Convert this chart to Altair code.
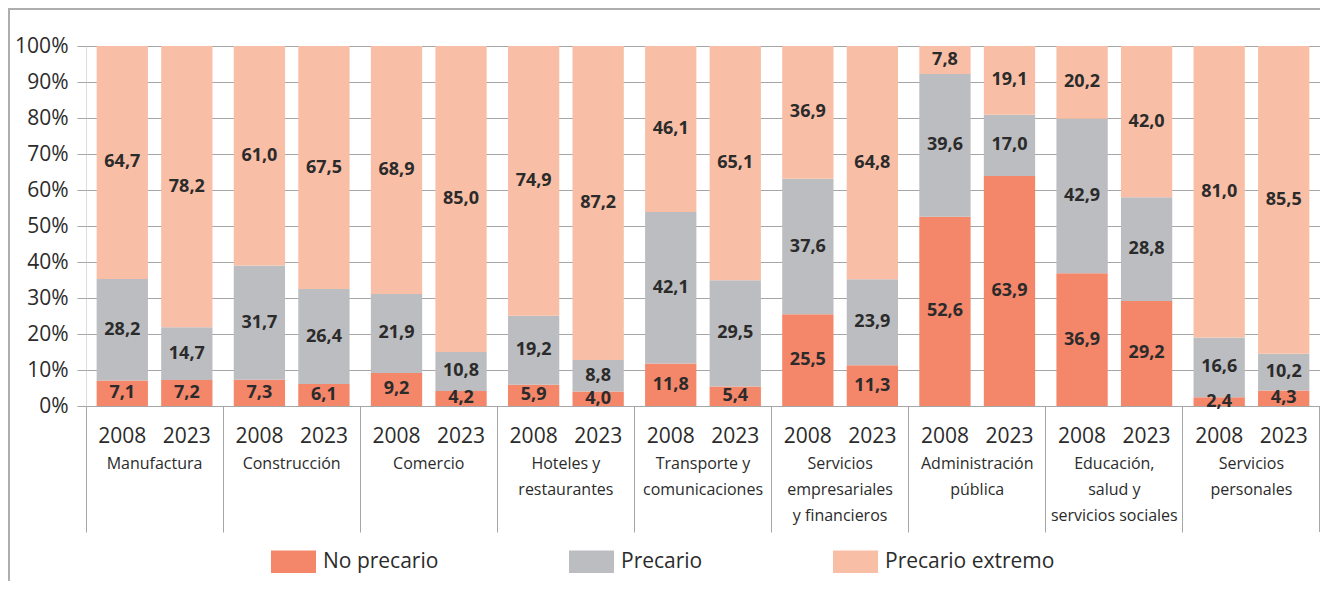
import altair as alt
import pandas as pd

sectors = ["Manufactura", "Construcción", "Comercio", "Hoteles y|restaurantes",
           "Transporte y|comunicaciones", "Servicios|empresariales|y financieros",
           "Administración|pública", "Educación,|salud y|servicios sociales",
           "Servicios|personales"]
years = ["2008", "2023"]
categories = ["No precario", "Precario", "Precario extremo"]

# values per sector: [2008, 2023]
no_precario = [[7.1, 7.2], [7.3, 6.1], [9.2, 4.2], [5.9, 4.0], [11.8, 5.4],
               [25.5, 11.3], [52.6, 63.9], [36.9, 29.2], [2.4, 4.3]]
precario = [[28.2, 14.7], [31.7, 26.4], [21.9, 10.8], [19.2, 8.8], [42.1, 29.5],
            [37.6, 23.9], [39.6, 17.0], [42.9, 28.8], [16.6, 10.2]]
precario_extremo = [[64.7, 78.2], [61.0, 67.5], [68.9, 85.0], [74.9, 87.2], [46.1, 65.1],
                    [36.9, 64.8], [7.8, 19.1], [20.2, 42.0], [81.0, 85.5]]
y_ticks = [0.0, 0.1, 0.2, 0.3, 0.4, 0.5, 0.6, 0.7, 0.8, 0.9, 1.0]

colors = ["#F4866A", "#BCBDC0", "#F9BFA6"]

rows = []
for si, s in enumerate(sectors):
    for yi, y in enumerate(years):
        for ci, (c, arr) in enumerate(zip(categories, [no_precario, precario, precario_extremo])):
            v = arr[si][yi]
            rows.append({"sector": s, "year": y, "cat": c, "order": ci,
                         "value": v, "label": f"{v:.1f}".replace(".", ",")})
df = pd.DataFrame(rows)
sec_df = pd.DataFrame({"sector": sectors})
yr_df = pd.DataFrame([{"sector": s, "year": y} for s in sectors for y in years])

W, H = 1234, 360
GRID = "#A6A6A6"
TXT = "#2b2b2b"
FONT = "Open Sans"

xs = alt.X("sector:N", sort=sectors, title=None,
           scale=alt.Scale(paddingInner=0, paddingOuter=0),
           axis=alt.Axis(labels=False, ticks=True, tickSize=126, tickColor=GRID,
                         bandPosition=0, domain=False, grid=False))
xo = alt.XOffset("year:N", sort=years,
                 scale=alt.Scale(paddingInner=0.205, paddingOuter=0.165))
y_axis = alt.Axis(format=".0%", values=y_ticks, labelOverlap=False, tickCount=11,
                  grid=True, gridColor=GRID, tickColor=GRID, tickSize=9,
                  domain=False, labelPadding=9, labelFont=FONT,
                  labelFontSize=21, labelColor=TXT)

base = alt.Chart(df).transform_stack(
    stack="value", groupby=["sector", "year"], as_=["y0", "y1"],
    sort=[alt.SortField("order")], offset="normalize"
).transform_calculate(mid="(datum.y0 + datum.y1) / 2")

bars = base.mark_bar().encode(
    x=xs, xOffset=xo,
    y=alt.Y("y0:Q", title=None, scale=alt.Scale(domain=[0, 1]), axis=y_axis),
    y2="y1:Q",
    color=alt.Color("cat:N", sort=categories,
                    scale=alt.Scale(domain=categories, range=colors),
                    legend=alt.Legend(title=None, orient="none", direction="horizontal",
                                      legendX=185, legendY=493,
                                      symbolType="M-1,-0.5H1V0.5H-1Z", symbolSize=2025,
                                      symbolStrokeWidth=0, symbolOpacity=1,
                                      labelFont=FONT, labelFontSize=21,
                                      labelColor=TXT, labelOffset=7,
                                      columnPadding=130, labelLimit=300)),
)

vals = base.mark_text(font=FONT, fontSize=18, fontWeight="bold", color=TXT,
                      baseline="middle").encode(
    x=xs, xOffset=xo,
    y=alt.Y("mid:Q", title=None, scale=alt.Scale(domain=[0, 1]), axis=y_axis),
    text="label:N")

yr_text = alt.Chart(yr_df).mark_text(font=FONT, fontSize=21, color=TXT,
                                      baseline="alphabetic").encode(
    x=xs, xOffset=xo, y=alt.value(397), text="year:N")

sec_text = alt.Chart(sec_df).mark_text(font=FONT, fontSize=16, color=TXT,
                                        baseline="alphabetic", lineBreak="|",
                                        lineHeight=26).encode(
    x=xs, y=alt.value(423), text="sector:N")

right_sep = alt.Chart(sec_df).mark_rule(color=GRID, strokeWidth=1).encode(
    x=alt.value(W), y=alt.value(H), y2=alt.value(H + 126))

frame_top = alt.Chart(sec_df).mark_rule(color="#AEAEAE", strokeWidth=2).encode(
    x=alt.value(-80), x2=alt.value(W + 10), y=alt.value(-37))
frame_left = alt.Chart(sec_df).mark_rule(color="#AEAEAE", strokeWidth=2).encode(
    x=alt.value(-77), y=alt.value(-37), y2=alt.value(H + 180))

chart = alt.layer(bars, vals, yr_text, sec_text, right_sep, frame_top, frame_left).properties(
    width=W, height=H, autosize=alt.AutoSizeParams(type="none"),
    padding={"left": 78, "top": 38, "right": 0, "bottom": 175}
).configure_view(stroke=None).configure(background="white")

chart.save("out.html", embed_options={"renderer": "svg", "actions": False})
